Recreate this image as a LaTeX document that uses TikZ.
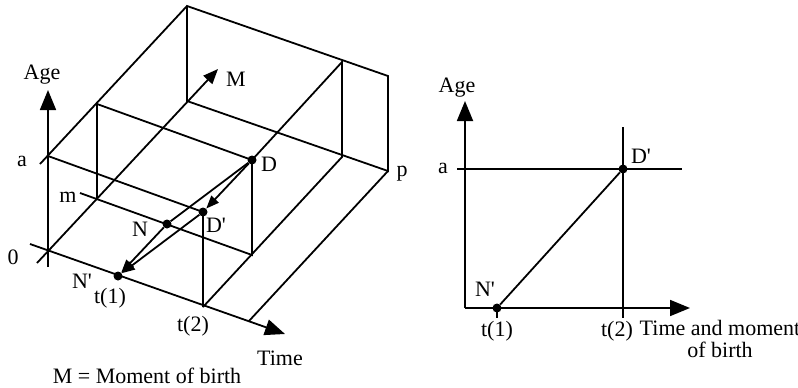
\documentclass[tikz,border=0pt]{standalone}
\usepackage{fontspec}
\setmainfont{Liberation Serif}
\usetikzlibrary{arrows.meta}
\newcommand{\pr}{\textquotesingle}
\tikzset{
  ln/.style={line width=1.8pt, black},
  axarr/.style={ln, -{Triangle[length=20pt, width=16pt]}},
  marr/.style={ln, -{Triangle[length=15pt, width=12pt]}},
  arr/.style={ln, -{Triangle[length=13pt, width=10pt]}},
  dot/.style={circle, fill=black, inner sep=0pt, minimum size=9pt},
  lbl/.style={font=\fontsize{22}{22}\selectfont, inner sep=0pt},
}

\begin{document}
\begin{tikzpicture}[x=1pt,y=-1pt]
\useasboundingbox (0,0) rectangle (798,388);
% ================= left: box points =================
\coordinate (o) at (48,251);
\coordinate (a) at (48,156);
\coordinate (aTick) at (40,164);
\coordinate (m0) at (97,199);
\coordinate (mA) at (97,104);
\coordinate (mTick) at (80,193);
\coordinate (k0) at (187,101);
\coordinate (kA) at (187,6);
\coordinate (t1) at (118,276);
\coordinate (t2) at (203,307);
\coordinate (tT) at (249,321);
\coordinate (t2m) at (252,255);
\coordinate (t2k0) at (342,157);
\coordinate (t2kA) at (342,62);
\coordinate (p) at (388,171);
\coordinate (pA) at (388,76);
\coordinate (cD) at (252,160);
\coordinate (cDp) at (203,212);
\coordinate (cN) at (167,224);
% ================= left: axes =================
\coordinate (ageBot) at (48,267); \coordinate (ageTop) at (48,90);
\coordinate (timeBeg) at (30,244); \coordinate (timeEnd) at (285,334);
\coordinate (mBeg) at (37,263); \coordinate (mEnd) at (218,69);
\draw[axarr] (ageBot) -- (ageTop);
\draw[axarr] (timeBeg) -- (timeEnd);
\draw[marr] (mBeg) -- (mEnd);
% ================= left: edges =================
\draw[ln] (aTick) -- (kA) -- (pA) -- (p) -- (k0) -- (kA);
\draw[ln] (a) -- (cDp) -- (t2);
\draw[ln] (mTick) -- (t2m) -- (cD) -- (mA) -- (m0);
\draw[ln] (t2) -- (t2k0) -- (t2kA) -- (cD);
\draw[ln] (tT) -- (p);
% ================= left: life line and projections =================
\node[dot] (D) at (cD) {};
\node[dot] (Dp) at (cDp) {};
\node[dot] (N) at (cN) {};
\node[dot] (Np) at (t1) {};
\draw[ln] (D) -- (N);
\draw[arr] (D) -- (Dp);
\draw[arr] (N) -- (Np);
\draw[arr] (Dp) -- (Np);
% ================= left: labels =================
\node[lbl] (lAge) at (42,75) {Age};
\node[lbl] (lM) at (236,79) {M};
\node[lbl] (la) at (22,161) {a};
\node[lbl] (lD) at (269,164) {D};
\node[lbl] (lp) at (402,174) {p};
\node[lbl] (lm) at (68,197) {m};
\node[lbl] (lN) at (140,229) {N};
\node[lbl] (lDp) at (216,225) {D\pr};
\node[lbl] (l0) at (13,257) {0};
\node[lbl] (lNp) at (82,281) {N\pr};
\node[lbl] (lt1) at (110,298) {t(1)};
\node[lbl] (lt2) at (193,326) {t(2)};
\node[lbl] (lTime) at (280,358) {Time};
\node[lbl] (lMob) at (147,376) {M = Moment of birth};
% ================= right: plane =================
\coordinate (o2) at (465,308);
\coordinate (age2Top) at (465,101);
\coordinate (time2End) at (690,308);
\coordinate (aBeg) at (457,169); \coordinate (aEnd) at (682,169);
\coordinate (t2Top) at (623,127); \coordinate (t2Bot) at (623,318);
\coordinate (t1Bot) at (497,318);
\draw[axarr] (o2) -- (age2Top);
\draw[axarr] (o2) -- (time2End);
\draw[ln] (aBeg) -- (aEnd);
\draw[ln] (t2Top) -- (t2Bot);
\node[dot] (Np2) at (497,308) {};
\node[dot] (Dp2) at (623,169) {};
\draw[ln] (Np2.center) -- (t1Bot);
\draw[ln] (Np2) -- (Dp2);
\node[lbl] (rAge) at (457,88) {Age};
\node[lbl] (ra) at (443,168) {a};
\node[lbl] (rDp) at (641,156) {D\pr};
\node[lbl] (rNp) at (485,289) {N\pr};
\node[lbl] (rt1) at (497,331) {t(1)};
\node[lbl] (rt2) at (617,331) {t(2)};
\node[lbl, align=center] (rTime) at (720,339) {Time and moment\\of birth};
\end{tikzpicture}
\end{document}
